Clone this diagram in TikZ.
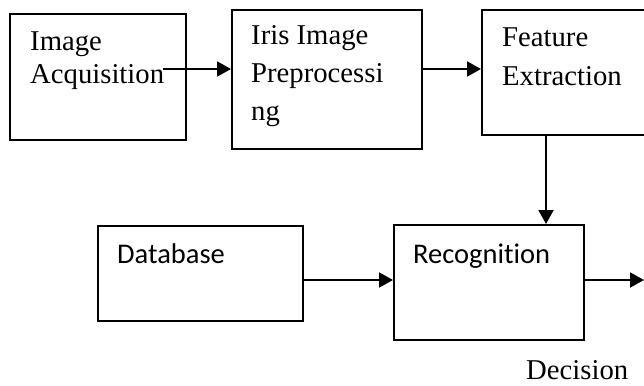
\documentclass[tikz,border=0pt]{standalone}
\usepackage{fontspec}
\setmainfont{Liberation Serif}
\newfontfamily\calfont[Ligatures=NoCommon]{Carlito}
\usetikzlibrary{arrows.meta}

\begin{document}
\begin{tikzpicture}[x=1pt, y=-1pt,
  box/.style = {draw, line width=1.6pt, anchor=north west, inner sep=0},
  arr/.style = {-{Triangle[length=14pt,width=15pt]}, line width=2pt},
  txt/.style = {anchor=base west, inner sep=0, align=left}]
\clip (0,0) rectangle (644,385);
\node [box, minimum width=176, minimum height=126] (acq) at (9,13) {};
\node [box, minimum width=190, minimum height=139] (pre) at (231,9) {};
\node [box, minimum width=180, minimum height=125] (feat) at (481,9) {};
\node [box, minimum width=205, minimum height=95] (db) at (97,225) {};
\node [box, minimum width=190, minimum height=115] (rec) at (393,224) {};
% text, placed at the baseline of the last line
\node [txt, font=\fontsize{28.7}{33}\selectfont] (acqtxt) at (30,84) {Image\\Acquisition};
\node [txt, font=\fontsize{28.7}{37.5}\selectfont] (pretxt) at (251,120) {Iris Image\\Preprocessi\\ng};
\node [txt, font=\fontsize{28.7}{39}\selectfont] (feattxt) at (502,85) {Feature\\Extraction};
\node [txt, font=\calfont\fontsize{28.5}{34}\selectfont] (dbtxt) at (117,263) {Database};
\node [txt, font=\calfont\fontsize{28.5}{34}\selectfont] (rectxt) at (413,263) {Recognition};
\node [txt, font=\fontsize{28.7}{34}\selectfont] (dec) at (526,379) {Decision};
% connectors
\coordinate (a1) at (163,69);
\coordinate (v) at (546,0);
\coordinate (h) at (0,280);
\coordinate (out) at (644,280);
\draw [arr] (a1) -- (a1 -| pre.west);
\draw [arr] (pre.east |- a1) -- (feat.west |- a1);
\draw [arr] (v |- feat.south) -- (v |- rec.north);
\draw [arr] (db.east |- h) -- (rec.west |- h);
\draw [arr] (rec.east |- h) -- (out);
\end{tikzpicture}
\end{document}
